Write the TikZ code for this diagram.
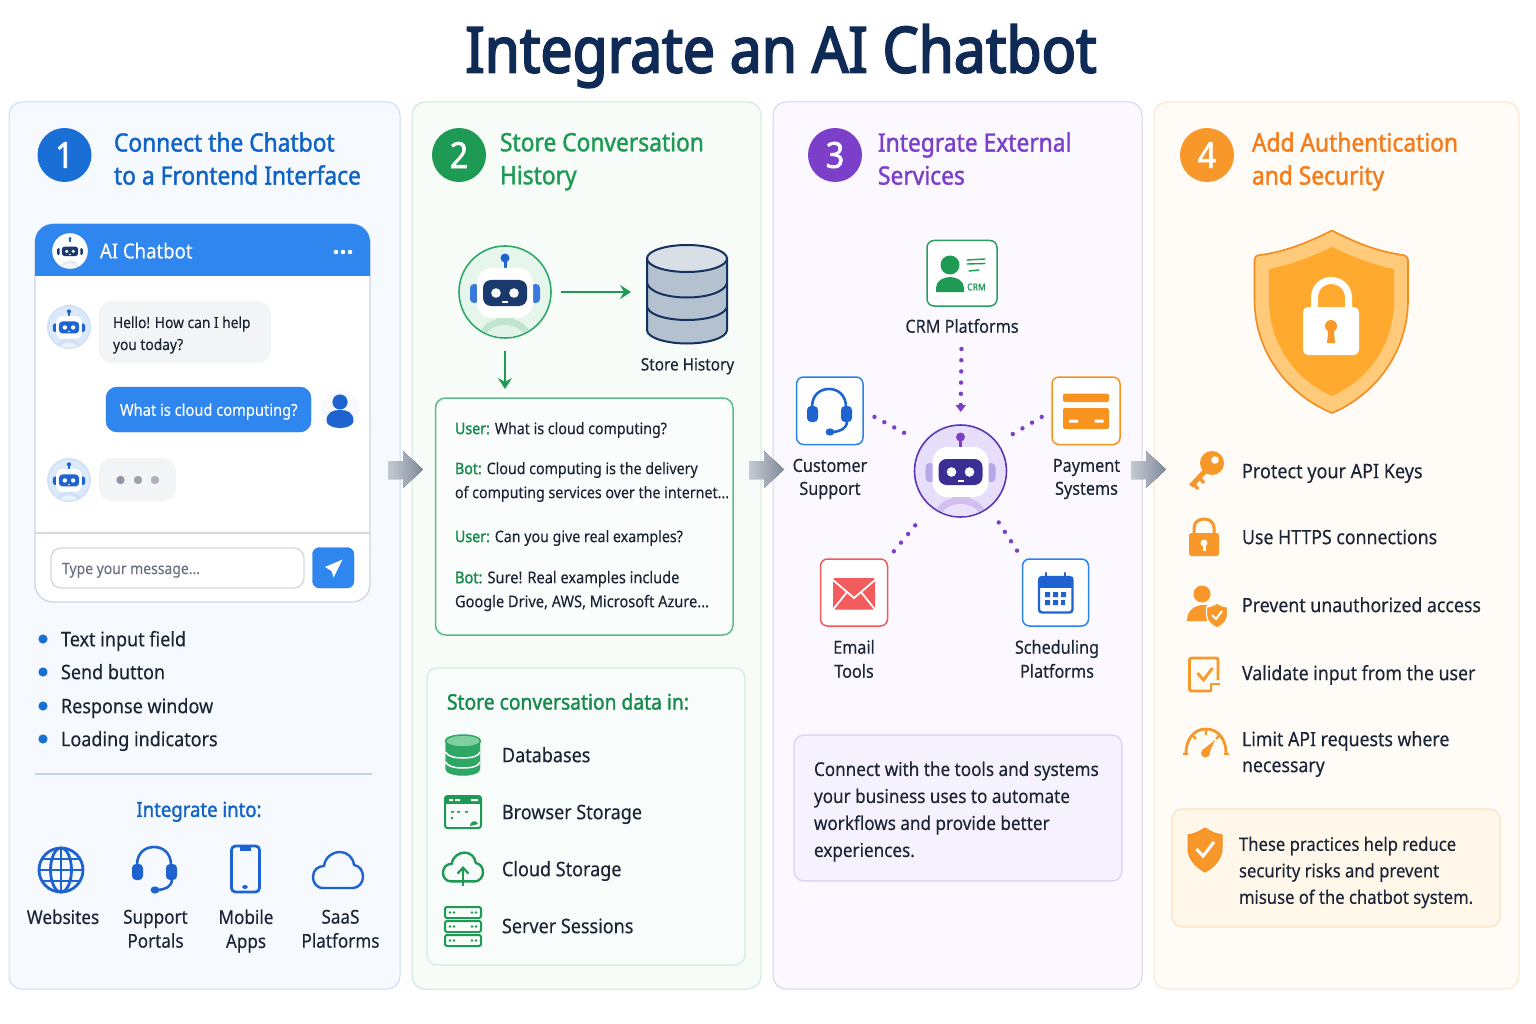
\documentclass[tikz,border=0pt]{standalone}
\usepackage{fontspec}
\setmainfont[FakeStretch=0.90,FakeBold=0.25,BoldFont={Noto Sans},BoldFeatures={FakeBold=1.5}]{Noto Sans}
\newfontfamily\titlef[FakeStretch=0.90,FakeBold=3]{Noto Sans}
\usetikzlibrary{arrows.meta,calc}
\newcommand\dc[1]{\definecolor{#1}{HTML}{#1}}
\dc{C9DDF6}\dc{F6FAFF}\dc{CBE9D6}\dc{F7FCF9}\dc{DAD1F1}\dc{FBF9FF}\dc{FBE5C8}\dc{FFFCF7}\dc{CBD5E1}\dc{E6E9EE}\dc{DBE9FB}\dc{CFE1F8}\dc{F3F4F6}\dc{2B7BE0}\dc{F7F9FC}\dc{8F98A6}\dc{99A1AD}\dc{ABB2BC}\dc{D5DAE1}\dc{6B7280}\dc{C5D2E2}\dc{E6F6ED}\dc{2FA96A}\dc{BFE5CF}\dc{14315F}\dc{B4C2D0}\dc{D8DFE6}\dc{5CBB88}\dc{FAFDFB}\dc{D4ECDE}\dc{F8FCFA}\dc{2EA765}\dc{7FD0A0}\dc{E6DEFA}\dc{5C35B5}\dc{3B2F95}\dc{B9A6E8}\dc{CFC0F0}\dc{2A9D5F}\dc{2B83EA}\dc{F7931E}\dc{F05A5A}\dc{F25C5C}\dc{D9D0F2}\dc{F6F2FD}\dc{FFCB7A}\dc{F58A1F}\dc{FFA92E}\dc{F9982A}\dc{FDE4BF}\dc{FFF7EA}\dc{C4CAD2}\dc{7F8B9B}\dc{3B78DD}
\definecolor{ink}{HTML}{1B2535}
\definecolor{titlec}{HTML}{0F2B55}
\definecolor{bluA}{HTML}{1E63D0}
\definecolor{bluH}{HTML}{0F62C6}
\definecolor{bluB}{HTML}{2F86EE}
\definecolor{bluNum}{HTML}{1A6FD6}
\definecolor{grn}{HTML}{1F9A55}
\definecolor{grnT}{HTML}{178A4C}
\definecolor{pur}{HTML}{7C3FC9}
\definecolor{org}{HTML}{F9982A}
\definecolor{orgT}{HTML}{F57C1A}
\definecolor{navy}{HTML}{1A3A6E}
\colorlet{robant}{bluA}
\newcommand\bal{\vphantom{lg}}
\tikzset{
  txt/.style={text=ink,inner sep=0pt,outer sep=0pt,yshift=-2pt,execute at begin node=\bal,execute at end node=\bal},
  L/.style={txt,anchor=west,align=left},
  C/.style={txt,anchor=center,align=center},
  panel/.style={draw=#1,line width=1pt,rounded corners=13pt},
  head/.style={txt,anchor=west,align=left,font=\headf,text=#1},
  num/.style={circle,fill=#1,text=white,inner sep=0pt,minimum size=54pt,font=\numf},
  icard/.style={draw=#1,fill=white,line width=1.5pt,rounded corners=7pt},
  dotline/.style={draw=pur,line width=4.4pt,line cap=round,dash pattern=on 0pt off 11.2pt},
}
\newcommand\headf{\fontsize{25.3}{33}\selectfont\bfseries}
\newcommand\numf{\fontsize{36}{36}\selectfont\bfseries}
\newcommand\fs[1]{\fontsize{#1}{#1}\selectfont}
\newcommand\bx[6]{\path ({(#2+#4)/2},{(#3+#5)/2}) node[rectangle,inner sep=0pt,outer sep=0pt,minimum width={(#4-(#2))*1pt},minimum height={(#5-(#3))*1pt},#6] (#1) {};}
% name,x,y,scale,ringfill,ringdraw,face,ear,body
\newcommand\robot[9]{%
  \node[circle,draw=#6,fill=#5,line width=1.6pt,inner sep=0pt,outer sep=0pt,minimum size={92*#4*1pt}] (#1) at (#2,#3) {};
  \begin{scope}[shift={(#2,#3)},scale=#4]
    \begin{scope}
      \clip (0,0) circle (45);
      \fill[#9] (0,48) ellipse (27 and 22);
      \fill[white,opacity=.55] (0,50) ellipse (21 and 17);
      \fill[#9] (-9,24) rectangle (9,32);
    \end{scope}
    \draw[robant,line width=#4*3pt] (0,-34) -- (0,-22);
    \fill[robant] (0,-34) circle (4.5);
    \fill[#8,rounded corners=#4*4pt] (-35,-8) rectangle (-26,11);
    \fill[#8,rounded corners=#4*4pt] (26,-8) rectangle (35,11);
    \fill[white,rounded corners=#4*15pt] (-28,-24) rectangle (28,26);
    \fill[#7,rounded corners=#4*8pt] (-22,-12) rectangle (22,14);
    \fill[white] (-9,1) circle (4.8) (9,1) circle (4.8);
    \fill[white] (-3,8.5) rectangle (3,10.5);
  \end{scope}}
% headset
\newcommand\headset[2]{\begin{scope}[shift={(#1,#2)}]
  \draw[bluA,line width=2.6pt] (-17,-4) .. controls (-17,-16) and (-9,-22) .. (0,-22) .. controls (9,-22) and (17,-16) .. (17,-4);
  \fill[bluA,rounded corners=4pt] (-22,-5) rectangle (-11,11);
  \fill[bluA,rounded corners=4pt] (12,-5) rectangle (23,11);
  \draw[bluA,line width=2.6pt] (18,11) .. controls (17,18) and (12,20) .. (4,21);
  \fill[bluA] (1,21) ellipse (4.5 and 3.6);
\end{scope}}
% cloud outline
\newcommand\cloudp[4]{\draw[#4,line width=2.4pt,line join=round,shift={(#1,#2)},scale=#3] (-15,18) .. controls (-22,18) and (-25,12) .. (-25,7) .. controls (-25,0) and (-20,-4) .. (-14,-4) .. controls (-13,-13) and (-5,-18) .. (2,-18) .. controls (9,-18) and (15,-13) .. (16,-5) .. controls (22,-4) and (25,1) .. (25,7) .. controls (25,13) and (20,18) .. (15,18) -- cycle;}
\begin{document}
\begin{tikzpicture}[x=1pt,y=-1pt]
\useasboundingbox (0,0) rectangle (1536,1024);
\fill[white] (0,0) rectangle (1536,1024);
\node[inner sep=0pt,text=titlec,font=\titlef\fontsize{63.4}{64}\selectfont] (title) at (781,56) {Integrate an AI Chatbot};
% panels
\bx{p1}{9}{102}{400}{989}{panel=C9DDF6,fill=F6FAFF}
\bx{p2}{412}{102}{761}{989}{panel=CBE9D6,fill=F7FCF9}
\bx{p3}{773}{102}{1142}{989}{panel=DAD1F1,fill=FBF9FF}
\bx{p4}{1154}{102}{1519}{989}{panel=FBE5C8,fill=FFFCF7}
% headers
\node[num=bluNum] (n1) at (64.5,155) {1};
\node[head=bluH] (h1) at (114,159.5) {Connect the Chatbot\\to a Frontend Interface};
\node[num=grn] (n2) at (459,155) {2};
\node[head=grn] (h2) at (500,159.5) {Store Conversation\\History};
\node[num=pur] (n3) at (835,155) {3};
\node[head=pur] (h3) at (878,159.5) {Integrate External\\Services};
\node[num=org] (n4) at (1207,155) {4};
\node[head=orgT] (h4) at (1252,159.5) {Add Authentication\\and Security};
% ---------- panel 1: chat window
\bx{win}{35}{224}{370}{602}{draw=CBD5E1,line width=1.2pt,fill=white,rounded corners=18pt}
\fill[bluB] (35,276) [rounded corners=18pt] -- (35,224) -- (370,224) [sharp corners] -- (370,276) -- cycle;
\robot{av0}{70}{251}{.37}{white}{white}{navy}{navy}{E6E9EE}
\node[L,text=white,font=\fs{20.6}] (chatname) at (100,251) {AI Chatbot};
\fill[white] (336,252) circle (2.3) (343,252) circle (2.3) (350,252) circle (2.3);
\robot{av1}{69}{327}{.46}{DBE9FB}{CFE1F8}{bluA}{bluA}{CFE1F8}
\bx{b1}{99}{301}{271}{363}{fill=F3F4F6,rounded corners=13pt}
\node[L,font=\fontsize{15.3}{22}\selectfont] (b1t) at (113,333) {Hello! How can I help\\you today?};
\bx{b2}{106}{387}{311}{432}{fill=bluB,draw=2B7BE0,rounded corners=11pt}
\node[L,text=white,font=\fs{16.3}] (b2t) at (120,409.5) {What is cloud computing?};
\fill[F7F9FC] (340,410) circle (19);
\fill[bluA] (340,402) circle (7.6);
\fill[bluA] (326.5,421) .. controls (326.5,412) and (333,410) .. (340,410) .. controls (347,410) and (353.5,412) .. (353.5,421) .. controls (353.5,426) and (345,428) .. (340,428) .. controls (335,428) and (326.5,426) .. (326.5,421) -- cycle;
\robot{av2}{69}{480}{.46}{DBE9FB}{CFE1F8}{bluA}{bluA}{CFE1F8}
\bx{b3}{99}{458}{176}{501}{fill=F3F4F6,rounded corners=13pt}
\fill[8F98A6] (120.5,480) circle (4.2);
\fill[99A1AD] (138,480) circle (4.2);
\fill[ABB2BC] (155,480) circle (4.2);
\draw[D5DAE1,line width=1.2pt] (win.west |- 0,533) -- (win.east |- 0,533);
\bx{inp}{51}{548}{304}{588}{draw=D5DAE1,line width=1.4pt,fill=white,rounded corners=10pt}
\node[L,text=6B7280,font=\fs{15.5}] (inpt) at (62,568) {Type your message...};
\bx{send}{312.5}{547.5}{354}{588}{fill=bluB,draw=2B7BE0,rounded corners=7pt}
\fill[white] (342.5,559.5) -- (325,567) -- (331.5,571) -- (333.5,577.5) -- cycle;
% list
\foreach \yy/\tx/\nm in {639/Text input field/a,672/Send button/b,706/Response window/c,739/Loading indicators/d}{
  \fill[bluNum] (43,\yy) circle (4.6);
  \node[L,font=\fs{20}] (li\nm) at (61,\yy) {\tx};
}
\draw[C5D2E2,line width=1.2pt] (35,774) -- (372,774);
\node[C,text=bluH,font=\fs{20.6}\bfseries] (intg) at (199,809.5) {Integrate into:};
% globe
\begin{scope}[bluA,line width=2.8pt]
\draw (61,870) circle (22);
\draw (61,870) ellipse (10.5 and 22);
\draw (61,848) -- (61,892);
\draw (39,870) -- (83,870);
\draw (43,859) -- (79,859);
\draw (43,881) -- (79,881);
\end{scope}
\headset{154}{869}
\bx{phone}{231.5}{846}{259.5}{892}{draw=bluA,line width=2.8pt,rounded corners=4pt}
\fill[bluA] (240,846) rectangle (251,851);
\fill[bluA] (245,887) ellipse (2.8 and 2);
\cloudp{338}{870}{1}{bluA}
\node[C,font=\fs{19}] (l1) at (63,917) {Websites};
\node[C,font=\fontsize{19}{24}\selectfont] (l2) at (155.5,929) {Support\\Portals};
\node[C,font=\fontsize{19}{24}\selectfont] (l3) at (246,929) {Mobile\\Apps};
\node[C,font=\fontsize{19}{24}\selectfont] (l4) at (340.5,929) {SaaS\\Platforms};
% ---------- panel 2
\colorlet{robant}{bluA}
\robot{robA}{505}{292}{1}{E6F6ED}{2FA96A}{navy}{3B78DD}{BFE5CF}
% database
\begin{scope}[draw=14315F,line width=2pt,fill=B4C2D0]
\node[inner sep=0pt,outer sep=0pt,minimum width=82pt,minimum height=100pt] (dbA) at (687,292) {};
\filldraw (647,258.5) -- (647,330) .. controls (647,338) and (667,343.5) .. (687,343.5) .. controls (707,343.5) and (727,338) .. (727,330) -- (727,258.5) -- cycle;
\draw[fill=D8DFE6] (687,258.5) ellipse (40 and 13.5);
\draw (647,283) .. controls (649,292) and (667,297.5) .. (687,297.5) .. controls (707,297.5) and (725,292) .. (727,283);
\draw (647,307) .. controls (649,315) and (667,320) .. (687,320) .. controls (707,320) and (725,315) .. (727,307);
\end{scope}
\node[C,font=\fs{17}] (dbl) at (687.5,364) {Store History};
\bx{conv}{435.5}{398}{733}{635}{draw=5CBB88,line width=1.5pt,fill=FAFDFB,rounded corners=10pt}
\draw[grn,line width=2.4pt,-{Stealth[length=11pt,width=14pt,inset=4pt]},shorten <=10pt,shorten >=15pt] (robA.east) -- (robA.east -| dbA.west);
\draw[grn,line width=2.4pt,-{Stealth[length=11pt,width=14pt,inset=4pt]},shorten <=13pt,shorten >=9pt] (robA.south) -- (robA.south |- conv.north);
\newcommand\pre[1]{{\color{grnT}\bfseries #1}}
\node[L,font=\fs{15.8}] (c1) at (455,428) {\pre{User:} What is cloud computing?};
\node[L,font=\fontsize{15.8}{24}\selectfont] (c2) at (455,480) {\pre{Bot:} Cloud computing is the delivery\\of computing services over the internet...};
\node[L,font=\fs{15.8}] (c3) at (455,536) {\pre{User:} Can you give real examples?};
\node[L,font=\fontsize{16.2}{24}\selectfont] (c4) at (455,589) {\pre{Bot:} Sure! Real examples include\\Google Drive, AWS, Microsoft Azure...};
\bx{store}{427}{668}{745}{965}{draw=D4ECDE,line width=1.2pt,fill=F8FCFA,rounded corners=10pt}
\node[L,text=grnT,font=\fs{21.4}\bfseries] (sth) at (447,702) {Store conversation data in:};
\node[L,font=\fs{20}] (s1) at (502,755) {Databases};
\node[L,font=\fs{20}] (s2) at (502,812) {Browser Storage};
\node[L,font=\fs{20}] (s3) at (502,869) {Cloud Storage};
\node[L,font=\fs{20}] (s4) at (502,926) {Server Sessions};
% db icon
\filldraw[fill=2EA765,draw=2EA765] (445.5,741) -- (445.5,769) .. controls (445.5,773) and (454,775.5) .. (463,775.5) .. controls (472,775.5) and (480,773) .. (480,769) -- (480,741) -- cycle;
\filldraw[fill=7FD0A0,draw=2EA765,line width=1.5pt] (463,741) ellipse (17.5 and 6);
\draw[white,line width=1.5pt] (445.5,752) .. controls (447,756) and (454,758) .. (463,758) .. controls (472,758) and (479,756) .. (480,752);
\draw[white,line width=1.5pt] (445.5,762) .. controls (447,766) and (454,768) .. (463,768) .. controls (472,768) and (479,766) .. (480,762);
% browser icon
\draw[grn,line width=2pt,rounded corners=2.5pt] (445,796) rectangle (481,828);
\fill[grn] (445,796) rectangle (481,804);
\fill[white] (449,799) rectangle (453,801) (455,799) rectangle (460,801) (471,799) rectangle (478,801);
\fill[grn] (451,811) rectangle (454,812.5) (457,811) rectangle (460,812.5) (465,811) rectangle (468,812.5) (451,817) rectangle (453,819);
\fill[grn] (470,826) .. controls (470,821) and (476,819) .. (478,824) -- cycle;
% cloud + arrow
\cloudp{463}{867}{.8}{grn}
\draw[grn,line width=2.2pt,-{Straight Barb[length=6pt,width=11pt]}] (463,886) -- (463,866);
% server icon
\foreach \yy in {907,921,935}{
  \draw[grn,line width=2pt,rounded corners=2pt] (445,\yy) rectangle (481,\yy+11);
  \fill[grn] (450,\yy+5.5) circle (1.4) (454,\yy+5.5) circle (1.4) (472,\yy+5.5) circle (1.4) (476,\yy+5.5) circle (1.4);
}
% ---------- panel 3
\colorlet{robant}{pur}
\robot{hub}{960.5}{471}{1}{E6DEFA}{5C35B5}{3B2F95}{B9A6E8}{CFC0F0}
\bx{crm}{927}{240.5}{997}{306}{icard=2A9D5F}
\bx{cust}{796.5}{377}{863}{444.5}{icard=2B83EA}
\bx{pay}{1052}{377}{1120}{444.5}{icard=F7931E}
\bx{mail}{820.5}{559}{887.5}{626}{icard=F05A5A}
\bx{sched}{1022.5}{559}{1088.5}{626}{icard=2B83EA}
% crm icon
\fill[grn] (950,265) circle (9.5);
\fill[grn] (936,292) -- (936,288) .. controls (936,281) and (943,277) .. (950,277) .. controls (957,277) and (964,281) .. (964,288) -- (964,292) -- cycle;
\node[inner sep=0pt,text=grn,font=\fs{9.5}\bfseries] (crmt) at (976.5,287) {CRM};
\draw[grn,line width=1.4pt,line cap=round] (967,260) -- (985,259) (967,264) -- (985,263.5) (969,271) -- (979,270);
% customer
\headset{829}{411}
% payment
\fill[F7931E,rounded corners=2pt] (1063,393.5) rectangle (1109,402);
\fill[F7931E,rounded corners=2pt] (1063,408) rectangle (1109,429);
\fill[white] (1069,419.5) rectangle (1078,422.5) (1094.5,419.5) rectangle (1103.5,422.5);
% mail
\fill[F25C5C,rounded corners=2pt] (833,578) rectangle (875,609.5);
\draw[white,line width=1.8pt] (833,580) -- (854,598) -- (875,580);
\draw[white,line width=1.8pt] (833,609.5) -- (847,592) (875,609.5) -- (861,592);
% calendar
\draw[bluA,line width=2.4pt,rounded corners=3pt] (1039,577) rectangle (1072.5,612.5);
\fill[bluA] (1039,577) rectangle (1072.5,588);
\draw[bluA,line width=2.4pt,line cap=round] (1046,573) -- (1046,581);
\draw[bluA,line width=2.4pt,line cap=round] (1065,573) -- (1065,581);
\fill[bluA] (1045,592) rectangle (1050,597) (1053,592) rectangle (1058,597) (1061,592) rectangle (1066,597) (1045,600) rectangle (1050,605) (1053,600) rectangle (1058,605) (1061,600) rectangle (1065,605);
% labels
\node[C,font=\fs{18}] (t1) at (962,326) {CRM Platforms};
\node[C,font=\fontsize{18}{23}\selectfont] (t2) at (830,477) {Customer\\Support};
\node[C,font=\fontsize{18}{23}\selectfont] (t3) at (1086.5,477) {Payment\\Systems};
\node[C,font=\fontsize{18}{24}\selectfont] (t4) at (854,659) {Email\\Tools};
\node[C,font=\fontsize{18}{24}\selectfont] (t5) at (1057,659) {Scheduling\\Platforms};
% dotted connectors
\draw[dotline,-{Triangle[length=7pt,width=10pt]},shorten <=43pt,shorten >=13pt] (crm.south) -- (hub.north);
\draw[dotline,shorten <=13pt,shorten >=14pt] (cust.east) -- (hub.143);
\draw[dotline,shorten <=12pt,shorten >=14pt] (pay.west) -- (hub.37);
\draw[dotline,shorten <=10pt,shorten >=15pt] (mail.north east) -- (hub.230);
\draw[dotline,shorten <=10pt,shorten >=14pt] (sched.north west) -- (hub.-52);
\bx{note3}{794}{735}{1122}{881}{draw=D9D0F2,line width=1.2pt,fill=F6F2FD,rounded corners=10pt}
\node[L,font=\fontsize{19}{27}\selectfont] (note3t) at (814,809.5) {Connect with the tools and systems\\your business uses to automate\\workflows and provide better\\experiences.};
% ---------- panel 4
\filldraw[fill=FFCB7A,draw=F58A1F,line width=1.6pt,line join=round] (1332,230.5) .. controls (1358,244) and (1380,252) .. (1403,255) .. controls (1406,255.5) and (1408,257) .. (1408,260) -- (1408,300) .. controls (1408,352) and (1375,395) .. (1332,413) .. controls (1288,395) and (1254.5,352) .. (1254.5,300) -- (1254.5,260) .. controls (1254.5,257) and (1256,255.5) .. (1260,255) .. controls (1283,252) and (1305,244) .. (1332,230.5) -- cycle;
\fill[FFA92E] (1332,247) .. controls (1355,258) and (1374,265) .. (1394,269) -- (1394,300) .. controls (1394,345) and (1368,380) .. (1332,396) .. controls (1296,380) and (1269,345) .. (1269,300) -- (1269,269) .. controls (1289,265) and (1309,258) .. (1332,247) -- cycle;
\draw[white,line width=7pt] (1314.5,310) -- (1314.5,298) .. controls (1314.5,287) and (1322,280.5) .. (1331,280.5) .. controls (1340,280.5) and (1348.5,287) .. (1348.5,298) -- (1348.5,310);
\fill[white,rounded corners=5pt] (1303,307) rectangle (1359,355);
\fill[F9982A] (1331,326) circle (6);
\fill[F9982A] (1328.5,328) -- (1333.5,328) -- (1335,343) -- (1327,343) -- cycle;
\node[L,font=\fs{20}] (k1) at (1242,471) {Protect your API Keys};
\node[L,font=\fs{19.7}] (k2) at (1242,537) {Use HTTPS connections};
\node[L,font=\fs{19.7}] (k3) at (1242,605) {Prevent unauthorized access};
\node[L,font=\fs{19.7}] (k4) at (1242,673) {Validate input from the user};
\node[L,font=\fontsize{19.7}{26}\selectfont] (k5) at (1242,752) {Limit API requests where\\necessary};
% key
\fill[org] (1212,463) circle (12);
\fill[FFFCF7] (1215,460) circle (3.8);
\draw[org,line width=5pt] (1208,468) -- (1191,486);
\draw[org,line width=3.4pt] (1193,483) -- (1198,489) (1199,477) -- (1204,483);
% lock
\draw[org,line width=3pt] (1194,535) -- (1194,528) .. controls (1194,522) and (1199,519) .. (1204,519) .. controls (1209,519) and (1214,522) .. (1214,528) -- (1214,535);
\fill[org,rounded corners=2.5pt] (1189,533) rectangle (1219,556);
\fill[FFFCF7] (1204,543) circle (3.5);
\fill[FFFCF7] (1202.5,544) rectangle (1205.5,551);
% user shield
\fill[org] (1202,594) circle (8.5);
\fill[org] (1187,621) .. controls (1187,611) and (1194,605) .. (1204,605) -- (1207,605) -- (1207,621) -- cycle;
\filldraw[fill=org,draw=FFFCF7,line width=1.2pt] (1217,603) .. controls (1220,605.5) and (1224,606.5) .. (1227.5,607) -- (1227.5,615) .. controls (1227.5,621) and (1223,625) .. (1217,628) .. controls (1211,625) and (1206.5,621) .. (1206.5,615) -- (1206.5,607) .. controls (1210,606.5) and (1214,605.5) .. (1217,603) -- cycle;
\draw[white,line width=2pt] (1212,615) -- (1216,619) -- (1222,611);
% validate
\draw[org,line width=2.8pt,rounded corners=2pt] (1210,691) -- (1189.5,691) -- (1189.5,658) -- (1218,658) -- (1218,680);
\draw[org,line width=2.8pt] (1211,692) -- (1211,684) -- (1219.5,684);
\draw[org,line width=2.8pt] (1197.5,673) -- (1203.5,680) -- (1212.5,668);
% gauge
\draw[org,line width=2.8pt] (1186,753) .. controls (1186,739) and (1194,729) .. (1206,729) .. controls (1218,729) and (1226,739) .. (1226,753);
\draw[org,line width=2.4pt] (1206,729) -- (1206,735) (1192,735) -- (1196,739) (1220,735) -- (1216,739) (1183,754) -- (1188,754) (1224,754) -- (1229,754);
\fill[org] (1205.5,753) circle (4.5);
\fill[org] (1202.5,750) -- (1215,740) -- (1208.5,755) -- cycle;
% note
\bx{note4}{1172}{809}{1500}{927}{draw=FDE4BF,line width=1.2pt,fill=FFF7EA,rounded corners=10pt}
\filldraw[fill=org,draw=F58A1F,line width=1pt,line join=round] (1205,828) .. controls (1211,832) and (1216,834) .. (1222,835) -- (1222,848) .. controls (1222,859) and (1214,867) .. (1205,872) .. controls (1196,867) and (1188,859) .. (1188,848) -- (1188,835) .. controls (1194,834) and (1199,832) .. (1205,828) -- cycle;
\draw[white,line width=3pt] (1196.5,849) -- (1203,856) -- (1214,842);
\node[L,font=\fontsize{18.5}{26.5}\selectfont] (note4t) at (1239,870.5) {These practices help reduce\\security risks and prevent\\misuse of the chatbot system.};
% big arrows
\foreach \xx in {388,749,1131}{
  \fill[left color=C4CAD2,right color=7F8B9B] (\xx,461) -- (\xx+15,461) -- (\xx+15,451) -- (\xx+35,469.5) -- (\xx+15,488) -- (\xx+15,479) -- (\xx,479) -- cycle;
}
\end{tikzpicture}
\end{document}
